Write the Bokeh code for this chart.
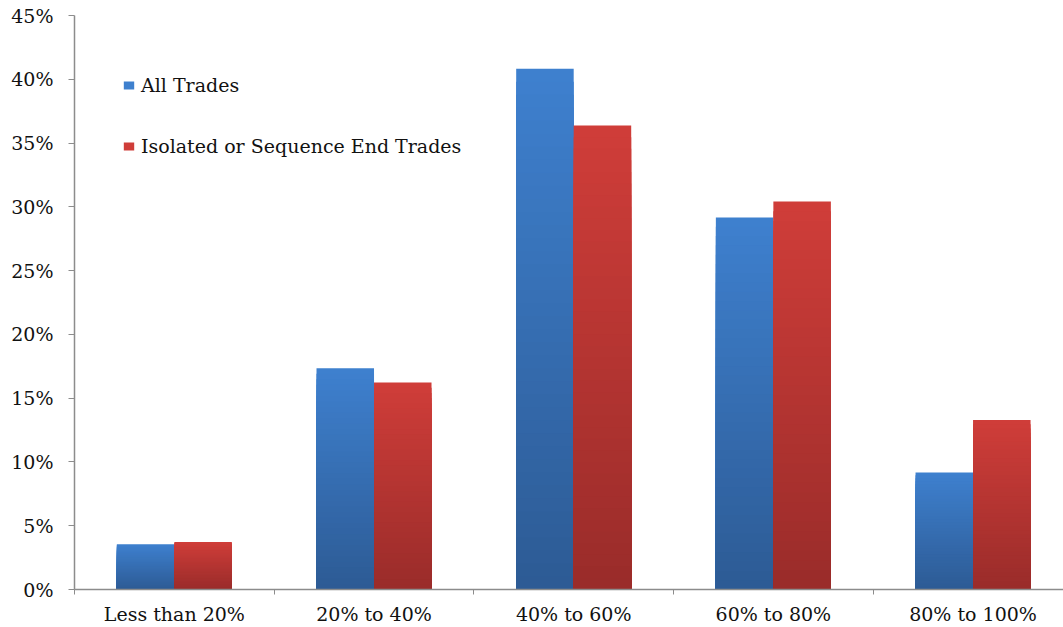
from bokeh.plotting import figure
from bokeh.models import (Range1d, FixedTicker, PrintfTickFormatter, Legend,
                          LegendItem, ColumnDataSource)
from bokeh.embed import file_html
from bokeh.resources import INLINE

# Share of trades by bucket (percent)
categories = ["Less than 20%", "20% to 40%", "40% to 60%", "60% to 80%", "80% to 100%"]
all_trades = [3.55, 17.35, 40.83, 29.17, 9.18]
isolated_end = [3.73, 16.22, 36.37, 30.42, 13.28]
series_names = ["All Trades", "Isolated or Sequence End Trades"]
y_ticks = [0, 5, 10, 15, 20, 25, 30, 35, 40, 45]

FONT = "DejaVu Serif"
FONT_SIZE = "19px"
BAR_W = 0.288
STEPS = 40

# (top colour, bottom colour) for each series' vertical gradient
gradients = [((0x3E, 0x80, 0xCE), (0x2D, 0x5B, 0x95)),
             ((0xCF, 0x3D, 0x39), (0x9A, 0x2C, 0x2A))]


def mix(c1, c2, t):
    r, g, b = (round(a + (b_ - a) * t) for a, b_ in zip(c1, c2))
    return "#%02x%02x%02x" % (r, g, b)


p = figure(width=1063, height=627, output_backend="svg", toolbar_location=None,
           x_range=Range1d(0, 4.953), y_range=Range1d(0, 45),
           min_border_left=74, min_border_right=0, min_border_top=15,
           min_border_bottom=37)
p.outline_line_color = None
p.xgrid.visible = False
p.ygrid.visible = False
p.background_fill_color = "white"
p.border_fill_color = "white"

legend_renderers = []
for s, values in enumerate([all_trades, isolated_end]):
    top_c, bot_c = gradients[s]
    offset = -BAR_W / 2 if s == 0 else BAR_W / 2
    xs = [i + 0.5 + offset for i in range(len(categories))]
    first = None
    # paint shrinking bars from the full height down, darkening toward the base
    for k in range(STEPS):
        frac = 1 - k / STEPS
        src = ColumnDataSource(dict(x=xs, top=[v * frac for v in values]))
        r = p.vbar(x="x", top="top", bottom=0, width=BAR_W, source=src,
                   fill_color=mix(top_c, bot_c, k / (STEPS - 1)), line_color=None)
        if first is None:
            first = r
    legend_renderers.append(first)

# x axis: category boundaries as minor ticks, names at the centres
p.xaxis.ticker = FixedTicker(ticks=[i + 0.5 for i in range(len(categories))],
                             minor_ticks=list(range(len(categories) + 1)))
p.xaxis.major_label_overrides = {i + 0.5: c for i, c in enumerate(categories)}
p.xaxis.major_tick_line_color = None
p.xaxis.minor_tick_out = 5
p.xaxis.minor_tick_in = 0
p.xaxis.minor_tick_line_color = "#8c8c8c"
p.xaxis.axis_line_color = "#8c8c8c"
p.xaxis.axis_line_width = 1.5
p.xaxis.major_label_standoff = 7
p.xaxis.major_label_text_font = FONT
p.xaxis.major_label_text_font_size = FONT_SIZE
p.xaxis.major_label_text_color = "#111111"

p.yaxis.ticker = FixedTicker(ticks=y_ticks)
p.yaxis.formatter = PrintfTickFormatter(format="%d%%")
p.yaxis.major_tick_out = 6
p.yaxis.major_tick_in = 0
p.yaxis.minor_tick_line_color = None
p.yaxis.major_tick_line_color = "#8c8c8c"
p.yaxis.axis_line_color = "#8c8c8c"
p.yaxis.axis_line_width = 1.5
p.yaxis.major_label_standoff = 15
p.yaxis.major_label_text_font = FONT
p.yaxis.major_label_text_font_size = FONT_SIZE
p.yaxis.major_label_text_color = "#111111"

legend = Legend(items=[LegendItem(label=n, renderers=[r])
                       for n, r in zip(series_names, legend_renderers)],
                location=(48, 432), orientation="vertical",
                glyph_width=13, glyph_height=10, label_standoff=6,
                label_height=20, spacing=39, padding=0, margin=0,
                border_line_color=None, background_fill_alpha=0,
                label_text_font=FONT, label_text_font_size=FONT_SIZE,
                label_text_color="#111111")
p.add_layout(legend, "center")

open("out.html", "w").write(file_html(p, INLINE))
